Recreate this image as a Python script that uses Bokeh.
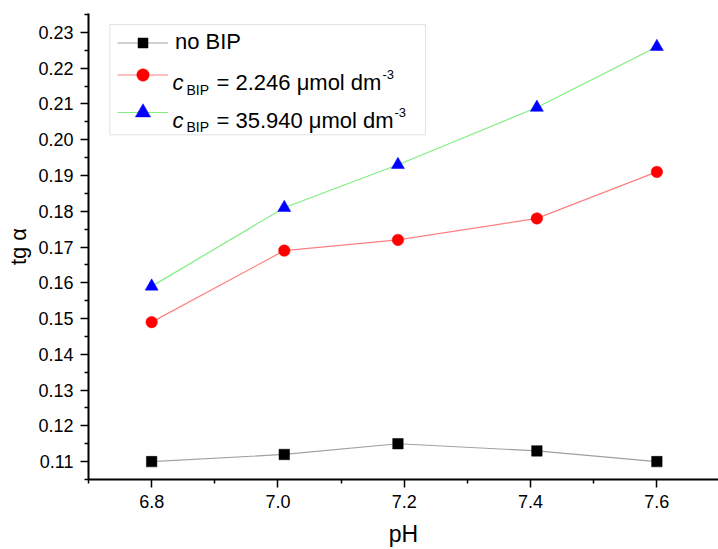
from bokeh.plotting import figure
from bokeh.models import (FixedTicker, PrintfTickFormatter, Legend, LegendItem,
                          Label, BoxAnnotation, Range1d)
from bokeh.embed import file_html
from bokeh.resources import INLINE

# ---- data ----
ph = [6.8, 7.01, 7.19, 7.41, 7.6]
tg_no_bip = [0.110, 0.112, 0.115, 0.113, 0.110]
tg_c_2246 = [0.149, 0.169, 0.172, 0.178, 0.191]
tg_c_35940 = [0.159, 0.181, 0.193, 0.209, 0.226]

x_major = [6.8, 7.0, 7.2, 7.4, 7.6]
x_minor = [6.7, 6.9, 7.1, 7.3, 7.5]
y_major = [0.11, 0.12, 0.13, 0.14, 0.15, 0.16, 0.17, 0.18, 0.19, 0.20, 0.21, 0.22, 0.23]
y_minor = [0.105, 0.115, 0.125, 0.135, 0.145, 0.155, 0.165, 0.175, 0.185,
           0.195, 0.205, 0.215, 0.225, 0.235]

FONT = "Liberation Sans"

p = figure(width=718, height=549, output_backend="svg", toolbar_location=None,
           x_range=Range1d(6.7, 7.6976), y_range=Range1d(0.105, 0.2353),
           min_border_left=88, min_border_right=0, min_border_top=13,
           min_border_bottom=70)
p.grid.visible = False
p.outline_line_color = None
p.background_fill_color = "white"

for ax, major, minor, fmt in ((p.xaxis[0], x_major, x_minor, "%.1f"),
                              (p.yaxis[0], y_major, y_minor, "%.2f")):
    ax.ticker = FixedTicker(ticks=major, minor_ticks=minor)
    ax.formatter = PrintfTickFormatter(format=fmt)
    ax.axis_line_width = 2
    ax.axis_line_color = "black"
    ax.major_tick_out = 8
    ax.major_tick_in = 0
    ax.minor_tick_out = 4
    ax.minor_tick_in = 0
    ax.major_tick_line_width = 1.5
    ax.minor_tick_line_width = 1.5
    ax.major_label_text_font = FONT
    ax.major_label_text_font_size = "18px"
    ax.major_label_text_color = "black"
    ax.major_label_standoff = 7
    ax.axis_label_text_font = FONT
    ax.axis_label_text_font_style = "normal"
    ax.axis_label_text_color = "black"

p.xaxis.axis_label = "pH"
p.xaxis.axis_label_text_font_size = "23px"
p.xaxis.axis_label_standoff = 10

p.yaxis.axis_label = "tg \u03b1"
p.yaxis.axis_label_text_font_size = "22px"
p.yaxis.axis_label_standoff = 4

# ---- series ----
l1 = p.line(ph, tg_no_bip, line_color="#a0a0a0", line_width=1.2)
s1 = p.scatter(ph, tg_no_bip, marker="square", size=10.5,
               fill_color="black", line_color="black", line_width=0.5)
l2 = p.line(ph, tg_c_2246, line_color="#ff8080", line_width=1.2)
s2 = p.scatter(ph, tg_c_2246, marker="circle", size=11.5,
               fill_color="#ff0000", line_color="#ff0000", line_width=0.5)
l3 = p.line(ph, tg_c_35940, line_color="#80ee80", line_width=1.2)
s3 = p.scatter(ph, tg_c_35940, marker="triangle", size=13,
               fill_color="#0000ff", line_color="#0000ff", line_width=0.5)

# ---- legend frame ----
box = BoxAnnotation(left=21.3, right=337, top=455, bottom=344.7,
                    left_units="screen", right_units="screen",
                    top_units="screen", bottom_units="screen",
                    fill_color="white", fill_alpha=1.0,
                    line_color="#a0a0a0", line_width=1)
p.add_layout(box)

def one_legend(label, renderers, gh, loc):
    lg = Legend(items=[LegendItem(label=label, renderers=renderers)],
                location=loc, glyph_width=51, glyph_height=gh,
                label_height=0, label_standoff=7, padding=0, margin=0,
                spacing=0, border_line_color=None, background_fill_alpha=0,
                label_text_font=FONT, label_text_font_size="22px",
                label_text_color="black")
    p.add_layout(lg, "center")

one_legend("no BIP", [l1, s1], 25, (29, 423.8))
one_legend(" ", [l2, s2], 31, (29, 389.2))
one_legend(" ", [l3, s3], 38, (29, 348.3))

def lab(text, x, y, size, style="normal"):
    p.add_layout(Label(x=x, y=y, x_units="screen", y_units="screen", text=text,
                       text_font=FONT, text_font_size=size,
                       text_font_style=style, text_color="black",
                       text_align="left", text_baseline="alphabetic"))

# row 2 : c_BIP = 2.246 umol dm^-3
lab("c", 84, 397, "22px", "italic")
lab("BIP", 98, 390, "14px")
lab("= 2.246 \u03bcmol dm", 128, 397, "22px")
lab("-3", 294, 405, "13px")
# row 3 : c_BIP = 35.940 umol dm^-3
lab("c", 84, 359.5, "22px", "italic")
lab("BIP", 98, 352.5, "14px")
lab("= 35.940 \u03bcmol dm", 128, 359.5, "22px")
lab("-3", 306, 367.5, "13px")

open("out.html", "w").write(file_html(p, INLINE))
